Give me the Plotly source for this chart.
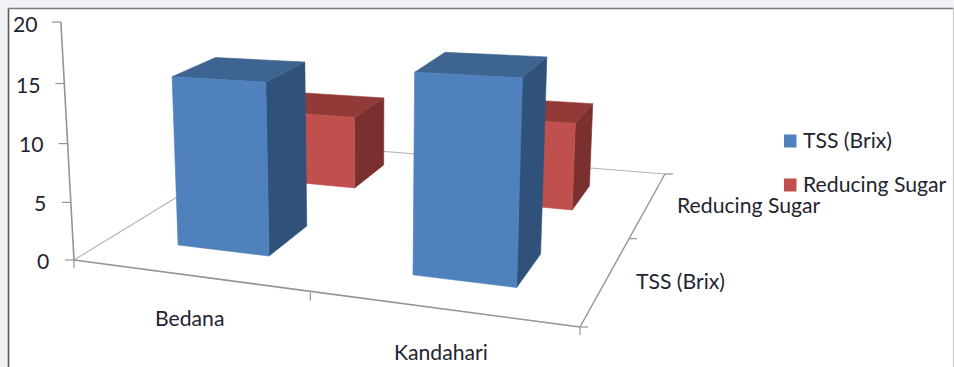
import numpy as np
import plotly.graph_objects as go

# Chart content
categories = ["Bedana", "Kandahari"]
series_names = ["TSS (Brix)", "Reducing Sugar"]
tss_values = [14.6, 16.1]
reducing_values = [6.9, 7.85]
value_ticks = [0, 5, 10, 15, 20]

# Bar footprints on the floor, in (category, series) floor units
x_spans = [(0.316, 0.725), (1.324, 1.716)]
y_spans = {
    (0, 0): (0.314, 0.726), (1, 0): (0.300, 0.697),
    (0, 1): (1.334, 1.755), (1, 1): (1.310, 1.698),
}

# Face colours per series: front, top, side
face_colors = [
    ("#4F81BD", "#3E6491", "#30527A"),
    ("#C0504D", "#913A38", "#7A302E"),
]
font = "Lato, Carlito, Calibri, sans-serif"
text_color = "#1f2430"

# Perspective view: floor corners and the vanishing point of vertical edges
floor_corners = [((0, 0), (74, 260)), ((2, 0), (580, 327)), ((2, 2), (665, 174)), ((0, 2), (267, 142))]
vertical_vanishing = np.array([370.0, 5640.0, 1.0])
vertical_scale = -0.002118

rows, rhs = [], []
for (fx, fy), (u, v) in floor_corners:
    rows.append([fx, fy, 1, 0, 0, 0, -u * fx, -u * fy]); rhs.append(u)
    rows.append([0, 0, 0, fx, fy, 1, -v * fx, -v * fy]); rhs.append(v)
h = np.linalg.solve(np.array(rows, float), np.array(rhs, float))
view = np.column_stack([[h[0], h[3], h[6]], [h[1], h[4], h[7]],
                        vertical_scale * vertical_vanishing, [h[2], h[5], 1.0]])


def project(x, y, z=0.0):
    p = view @ np.array([x, y, z, 1.0])
    return p[0] / p[2], p[1] / p[2]


def polygon(points, color, name):
    xy = [project(*pt) for pt in points]
    xy.append(xy[0])
    return go.Scatter(x=[a for a, _ in xy], y=[b for _, b in xy], mode="lines", fill="toself",
                      fillcolor=color, line=dict(color=color, width=0.6),
                      hoverinfo="text", text=name, showlegend=False)


def segment(a, b, color, width=1.2):
    return go.Scatter(x=[a[0], b[0]], y=[a[1], b[1]], mode="lines",
                      line=dict(color=color, width=width), hoverinfo="skip", showlegend=False)


fig = go.Figure()

# Floor outline and axes
light = "#B8B8B8"
dark = "#949494"
fig.add_trace(segment(project(0, 0), project(0, 2), light))
fig.add_trace(segment(project(0, 2), project(2, 2), light))
fig.add_trace(segment(project(2, 2), project(2, 0), dark, 1.4))
fig.add_trace(segment(project(0, 0), project(2, 0), dark, 1.6))
fig.add_trace(segment(project(0, 0), project(0, 0, value_ticks[-1]), dark, 1.6))

for tick in value_ticks:
    px, py = project(0, 0, tick)
    fig.add_trace(segment((px - 9, py), (px, py), dark))
for cat in (0, 1, 2):
    px, py = project(cat, 0)
    if cat == 1:
        px, py = px + 6, py + 2
    fig.add_trace(segment((px, py), (px, py + 8), dark))
for ser in (0, 1, 2):
    px, py = project(2, ser)
    fig.add_trace(segment((px, py), (px + 8, py), dark))

# Bars, furthest series first so nearer ones overlap them
values = [tss_values, reducing_values]
for s in (1, 0):
    front, top, side = face_colors[s]
    for c in range(len(categories)):
        x0, x1 = x_spans[c]
        y0, y1 = y_spans[(c, s)]
        z = values[s][c]
        name = f"{categories[c]} / {series_names[s]}: {z}"
        fig.add_trace(polygon([(x1, y0, 0), (x1, y1, 0), (x1, y1, z), (x1, y0, z)], side, name))
        fig.add_trace(polygon([(x0, y0, z), (x1, y0, z), (x1, y1, z), (x0, y1, z)], top, name))
        fig.add_trace(polygon([(x0, y0, 0), (x1, y0, 0), (x1, y0, z), (x0, y0, z)], front, name))


def label(x, y, text, anchor="center"):
    fig.add_annotation(x=x, y=y, text=text, showarrow=False, xanchor=anchor, yanchor="middle",
                       font=dict(family=font, size=21.2, color=text_color), xref="x", yref="y")


for tick, right, mid in zip(value_ticks, [51, 48, 46, 43, 40], [261, 203, 144, 85, 24]):
    label(right, mid, str(tick), "right")
label(189, 318, categories[0])
label(441, 352, categories[1])
label(634, 281, series_names[0], "left")
label(675, 205, series_names[1], "left")

# Key on the right
for name, color, mid in zip(series_names, [face_colors[0][0], face_colors[1][0]], [141, 185]):
    fig.add_shape(type="rect", x0=784, x1=796.5, y0=mid - 6.5, y1=mid + 6.5, xref="x", yref="y",
                  fillcolor=color, line=dict(width=0))
    label(801, mid - 1, name, "left")

# Chart frame: white panel with a dark top and left edge and a pale right edge
fig.add_shape(type="rect", x0=8.5, x1=953, y0=8.5, y1=420, xref="x", yref="y", layer="below",
              fillcolor="#FFFFFF", line=dict(width=0))
for x0, y0, x1, y1, color, width in [(8.5, 8.5, 953.5, 8.5, "#7C7C7C", 1.6),
                                     (8.5, 8.5, 8.5, 367, "#5A5A5A", 1.6),
                                     (953.5, 8.5, 953.5, 367, "#C8C8C8", 1.2)]:
    fig.add_shape(type="line", x0=x0, y0=y0, x1=x1, y1=y1, xref="x", yref="y", layer="below",
                  line=dict(color=color, width=width))

fig.update_xaxes(range=[0, 954], visible=False, fixedrange=True)
fig.update_yaxes(range=[367, 0], visible=False, fixedrange=True)
fig.update_layout(width=954, height=367, margin=dict(l=0, r=0, t=0, b=0), autosize=False,
                  paper_bgcolor="#F0F2F5", plot_bgcolor="#F0F2F5")
fig.write_html("out.html", config=dict(displayModeBar=False))
